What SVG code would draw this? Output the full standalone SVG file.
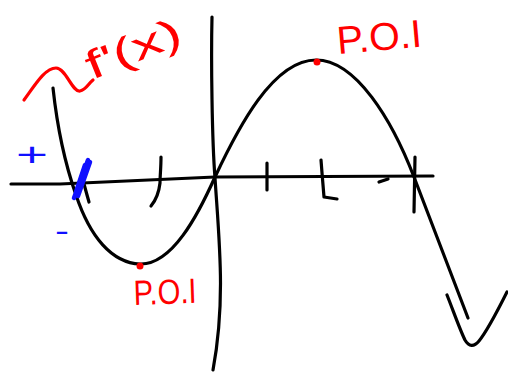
<svg xmlns="http://www.w3.org/2000/svg" width="508" height="374" viewBox="0 0 508 374">
<style>
.ink{fill:none;stroke:#000;stroke-width:3.2;stroke-linecap:round;stroke-linejoin:round}
.red{fill:none;stroke:#ff0000;stroke-width:3.2;stroke-linecap:round;stroke-linejoin:round}
.blue{fill:none;stroke:#1010ff;stroke-width:4.5;stroke-linecap:round;stroke-linejoin:round}
.rt{fill:#ff0000;font-family:"Liberation Sans",Arial,sans-serif}
.bt{fill:#1010ff;font-family:"Liberation Sans",Arial,sans-serif}
</style>
<rect width="508" height="374" fill="#fff"/>
<g id="axes">
<path class="ink" d="M11,184 L60,184 L215,177 L433,176"/>
<path class="ink" d="M379,182 L388,179"/>
<path class="ink" d="M212,17 C211,60 212,140 215,178 C219,240 226,300 213,370"/>
</g>
<g id="ticks">
<path class="ink" d="M83,180 C85,188 87,195 89,202"/>
<path class="ink" d="M161,157 C161,168 160,176 160,183 C159,192 156,200 151,206"/>
<path class="ink" d="M267,163 L267,190"/>
<path class="ink" d="M321,160 C322,172 323,186 324,197 L337,199"/>
<path class="ink" d="M415,157 L414,212"/>
</g>
<g id="curve">
<path class="ink" d="M53,88 C57,125 63,158 76,195 C90,237 112,263 140,264 C172,265 198,215 215,177 C238,128 273,60 316,60 C356,60 392,120 414,177 L468,318"/>
<path class="ink" d="M447,295 C453,310 460,330 465,340 C469,347 474,347 479,341 C488,330 498,310 507,292"/>
</g>
<g id="poi-max">
<circle cx="317" cy="62" r="3.5" fill="#ff0000"/>
<text class="rt" x="338" y="54" font-size="39" textLength="85" lengthAdjust="spacingAndGlyphs" transform="rotate(-5 338 54)">P.O.I</text>
</g>
<g id="poi-min">
<circle cx="140" cy="266" r="3.5" fill="#ff0000"/>
<text class="rt" x="134" y="305" font-size="35" textLength="63" lengthAdjust="spacingAndGlyphs" transform="rotate(-2 134 305)">P.O.I</text>
</g>
<g id="label-fprime">
<path class="red" d="M24,100 C35,85 45,68 56,68 C66,68 72,92 80,91 C86,90 88,84 93,80"/>
<text class="rt" x="92" y="80" font-size="40" textLength="100" lengthAdjust="spacingAndGlyphs" transform="rotate(-22 92 80)">f'(x)</text>
</g>
<g id="signs">
<text class="bt" x="16" y="166" font-size="34" textLength="32" lengthAdjust="spacingAndGlyphs">+</text>
<text class="bt" x="55" y="240" font-size="28" textLength="14" lengthAdjust="spacingAndGlyphs">-</text>
<path class="blue" d="M88,160 L74,198 M85,165 L76,192 M90,162 L78,196"/>
</g>
</svg>
